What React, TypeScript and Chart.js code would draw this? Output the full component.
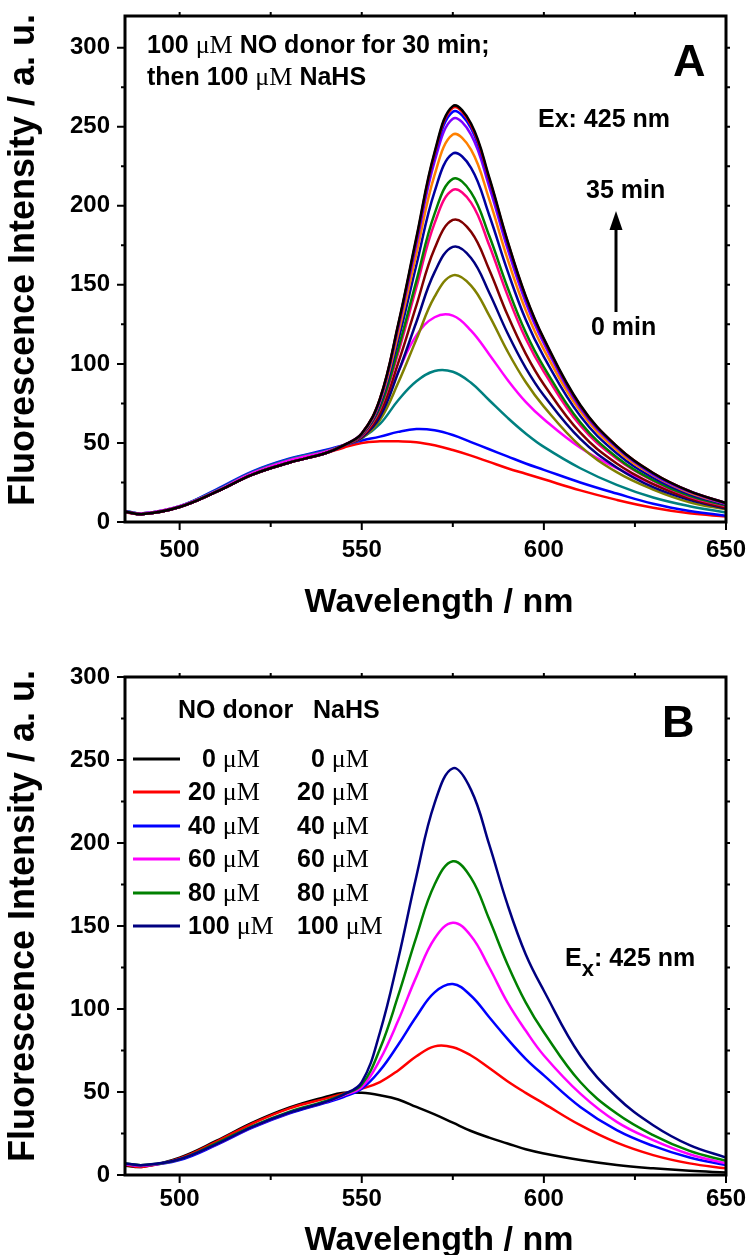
import React, { useEffect, useRef } from "react";
import { Chart, registerables } from "chart.js";

Chart.register(...registerables);

// ---------- shared axes ----------
const WAVELENGTHS = [485, 490, 500, 510, 520, 530, 540, 545, 550, 555, 560, 565, 570, 575, 580, 585, 590, 595, 600, 610, 620, 630, 640, 650];
const X_MIN = 485;
const X_MAX = 650;
const X_MAJOR_TICKS = [500, 550, 600, 650];
const X_MINOR_TICKS = [525, 575, 625];
const Y_MAJOR_TICKS = [0, 50, 100, 150, 200, 250, 300];
const Y_MINOR_TICKS = [25, 75, 125, 175, 225, 275];
const Y_MAX_A = 320;
const Y_MAX_B = 300;
const X_TITLE = "Wavelength / nm";
const Y_TITLE = "Fluorescence Intensity / a. u.";

// ---------- panel A: time course (0 -> 35 min) ----------
const A_S01 = [6, 5, 9.5, 19, 30, 37.5, 43.5, 47, 50, 51, 51, 50.5, 48.5, 45.5, 42, 38, 34, 30.5, 27, 20, 14, 9, 5.5, 3.5];
const A_S02 = [7, 5.5, 10, 20.5, 32, 40, 45.5, 48.5, 51.5, 54, 57, 58.8, 58, 55, 50.5, 46, 41.5, 37, 33, 25, 18, 11.5, 7, 4];
const A_S03 = [7, 5.5, 10, 20, 31.5, 39.5, 45, 48.5, 53, 62, 77, 89, 95.5, 95, 88, 77, 66, 56, 47.5, 34, 23.5, 15.5, 10, 6];
const A_S04 = [6.5, 5.5, 10, 19.5, 31, 39, 44.5, 48.5, 54, 68, 95, 118, 129.5, 130.5, 121, 106, 90, 76, 65, 47, 34, 24, 15.5, 9.5];
const A_S05 = [6.5, 5, 9.5, 19, 30, 37.5, 43.5, 48.5, 53, 64.5, 88, 115.5, 142.5, 156, 149.5, 130.5, 108, 88.5, 73, 48, 31.5, 20.5, 12.5, 8];
const A_S06 = [6.5, 5, 9.5, 19, 30, 37.5, 43.5, 48.5, 53.5, 66.5, 94.5, 126.5, 158, 174, 167, 145, 119.5, 97.5, 80, 52.5, 34.5, 22, 14, 8.5];
const A_S07 = [6.5, 5, 9.5, 19, 30, 37.5, 43.5, 48.5, 54, 69, 100.5, 137, 173, 191, 183.5, 159.5, 131, 106.5, 87, 56.5, 37, 24, 15, 9];
const A_S08 = [6.5, 5, 9.5, 19, 30, 37.5, 43.5, 48.5, 54.5, 71.5, 107, 148.5, 189, 210, 202, 175, 143.5, 116, 95, 61, 40, 26, 16, 10];
const A_S09 = [6.5, 5, 9.5, 19, 30, 37.5, 43.5, 48.5, 55, 72.5, 109.5, 152.5, 195, 217, 208.5, 181, 148.5, 120, 98, 63, 41, 26.5, 16.5, 10.5];
const A_S10 = [6.5, 5, 9.5, 19, 30, 37.5, 43.5, 48.5, 55, 74.5, 115, 162.5, 209, 233, 224, 194, 159, 128, 104.5, 67, 43.5, 28, 17.5, 11];
const A_S11 = [6.5, 5, 9.5, 19, 30, 37.5, 43.5, 48.5, 55.5, 76, 119, 169.5, 219.5, 245, 235.5, 204, 166.5, 134, 109, 70, 45.5, 29.5, 18.5, 11.5];
const A_S12 = [6.5, 5, 9.5, 19, 30, 37.5, 43.5, 48.5, 56, 77, 122.5, 175.5, 228, 255, 245, 212, 173, 139, 113, 72, 47, 30, 19, 11.5];
const A_S13 = [6.5, 5, 9.5, 19, 30, 37.5, 43.5, 48.5, 56, 77.5, 124, 178, 231.5, 259.5, 249, 215.5, 176, 141.5, 115, 73, 47.5, 30.5, 19.5, 12];
const A_S14 = [6.5, 5, 9.5, 19, 30, 37.5, 43.5, 48.5, 56, 78, 124.5, 179, 233, 262, 251, 217, 177.5, 142.5, 115.5, 73.5, 48, 31, 19.5, 12];
const A_S15 = [6.5, 5, 9.5, 19, 30, 37.5, 43.5, 48.5, 56, 78, 125, 180, 234, 263, 252, 218, 178, 143, 116, 74, 48, 31, 19.5, 12];
const A_SERIES = [A_S01, A_S02, A_S03, A_S04, A_S05, A_S06, A_S07, A_S08, A_S09, A_S10, A_S11, A_S12, A_S13, A_S14, A_S15];
const A_COLORS = ["#FF0000", "#0000FF", "#008080", "#FF00FF", "#808000", "#000080", "#800000", "#FF0080", "#008000", "#0000A0", "#FF8000", "#8000FF", "#0000FF", "#FF0000", "#000000"];

// ---------- panel B: concentration series ----------
const B_LABELS_NO = ["0", "20", "40", "60", "80", "100"];
const B_LABELS_NAHS = ["0", "20", "40", "60", "80", "100"];
const B_S0 = [5.5, 5, 10.5, 20.5, 31.5, 40.5, 47, 49.5, 49.5, 48, 45.5, 41, 36.5, 31.5, 26.5, 22.5, 19, 15.5, 13, 9, 6, 4, 2.5, 1.5];
const B_S20 = [6, 5, 10, 20, 31, 40, 46, 49, 52, 56, 63, 71.5, 77.5, 77, 72, 64.5, 56.5, 49.5, 43, 30, 19.5, 12, 7, 4];
const B_S40 = [6.5, 5.5, 9, 18, 28.5, 37, 43.5, 47, 52, 63, 78.5, 95.5, 110, 115, 108, 95, 82, 70, 60, 41, 27, 17.5, 10.5, 6];
const B_S60 = [6.5, 5.5, 9.5, 18.5, 29, 37.5, 44, 48, 53, 69.5, 93, 119.5, 142.5, 152, 144, 125, 104, 87, 72, 49, 32, 21, 12.5, 7];
const B_S80 = [7, 6, 9.5, 19, 29.5, 38, 44.5, 48.5, 54.5, 76, 108, 143.5, 175, 189, 179, 154, 127, 104, 86, 56, 37, 24, 14.5, 8.5];
const B_S100 = [7, 6, 9.5, 18.5, 29, 37.5, 44, 48.5, 56, 86, 130, 180, 224, 245, 232, 199, 163, 133, 111, 72, 47, 30, 18, 10.5];
const B_SERIES = [B_S0, B_S20, B_S40, B_S60, B_S80, B_S100];
const B_COLORS = ["#000000", "#FF0000", "#0000FF", "#FF00FF", "#008000", "#000080"];

// ---------- styling ----------
const SANS = '"Liberation Sans", Arial, Helvetica, sans-serif';
const SERIF = '"Liberation Serif", "Times New Roman", serif';
const B25 = `bold 25px ${SANS}`;
const MU = `26px ${SERIF}`;

type Run = { text: string; font: string; dy?: number };

function drawRuns(ctx: CanvasRenderingContext2D, x: number, y: number, runs: Run[]) {
  let cx = x;
  for (const r of runs) {
    ctx.font = r.font;
    ctx.fillText(r.text, cx, y + (r.dy || 0));
    cx += ctx.measureText(r.text).width;
  }
  return cx;
}

type TitlePos = { xTitleX: number; xTitleBase: number; yTitleX: number; yTitleY: number };

function framePlugin(yMax: number, tp: TitlePos, notes: (ctx: CanvasRenderingContext2D) => void) {
  return {
    id: "frameNotes",
    afterDraw(chart: any) {
      const ctx: CanvasRenderingContext2D = chart.ctx;
      const { left, right, top, bottom } = chart.chartArea;
      const xs = chart.scales.x;
      const ys = chart.scales.y;
      ctx.save();
      ctx.strokeStyle = "#000";
      ctx.fillStyle = "#000";
      ctx.lineWidth = 2;
      ctx.beginPath();
      for (const v of X_MAJOR_TICKS) {
        const p = xs.getPixelForValue(v);
        ctx.moveTo(p, bottom);
        ctx.lineTo(p, bottom + 8);
      }
      for (const v of X_MINOR_TICKS) {
        const p = xs.getPixelForValue(v);
        ctx.moveTo(p, bottom);
        ctx.lineTo(p, bottom + 5);
      }
      for (const v of [...X_MAJOR_TICKS, ...X_MINOR_TICKS]) {
        if (v >= X_MAX) continue;
        const p = xs.getPixelForValue(v);
        ctx.moveTo(p, top);
        ctx.lineTo(p, top - 4);
      }
      for (const v of Y_MAJOR_TICKS) {
        const p = ys.getPixelForValue(v);
        ctx.moveTo(left, p);
        ctx.lineTo(left - 8, p);
        if (v > 0 && v < yMax) {
          ctx.moveTo(right, p);
          ctx.lineTo(right + 4, p);
        }
      }
      for (const v of Y_MINOR_TICKS) {
        const p = ys.getPixelForValue(v);
        ctx.moveTo(left, p);
        ctx.lineTo(left - 4, p);
        ctx.moveTo(right, p);
        ctx.lineTo(right + 4, p);
      }
      ctx.stroke();
      ctx.lineWidth = 3;
      ctx.strokeRect(left, top, right - left, bottom - top);

      // axis titles
      ctx.textAlign = "center";
      ctx.textBaseline = "alphabetic";
      ctx.font = `bold 34px ${SANS}`;
      ctx.fillText(X_TITLE, tp.xTitleX, tp.xTitleBase);
      ctx.save();
      ctx.translate(tp.yTitleX, tp.yTitleY);
      ctx.rotate(-Math.PI / 2);
      ctx.textBaseline = "middle";
      ctx.font = `bold 36px ${SANS}`;
      ctx.fillText(Y_TITLE, 0, 0);
      ctx.restore();

      ctx.textAlign = "left";
      ctx.textBaseline = "alphabetic";
      notes(ctx);
      ctx.restore();
    },
  };
}

function zeroPadding(s: any) {
  s.paddingTop = 0;
  s.paddingBottom = 0;
  s.paddingLeft = 0;
  s.paddingRight = 0;
}

function makeOptions(yMax: number, padTop: number, xAxisHeight: number, xTickPad: number) {
  const tickFont = { family: SANS, size: 24, weight: "bold" as const };
  return {
    responsive: false,
    animation: false as const,
    layout: { padding: { left: 0, right: 24, top: padTop, bottom: 0 } },
    plugins: { legend: { display: false }, tooltip: { enabled: false } },
    elements: { point: { radius: 0 } },
    scales: {
      x: {
        type: "linear" as const,
        min: X_MIN,
        max: X_MAX,
        afterBuildTicks: (s: any) => {
          s.ticks = X_MAJOR_TICKS.map((v) => ({ value: v }));
        },
        afterFit: (s: any) => {
          s.height = xAxisHeight;
          zeroPadding(s);
        },
        grid: { display: false, drawTicks: false },
        border: { display: false },
        ticks: { font: tickFont, color: "#000", padding: xTickPad, maxRotation: 0, autoSkip: false, callback: (v: any) => String(v) },
        title: { display: false },
      },
      y: {
        type: "linear" as const,
        min: 0,
        max: yMax,
        afterBuildTicks: (s: any) => {
          s.ticks = Y_MAJOR_TICKS.map((v) => ({ value: v }));
        },
        afterFit: (s: any) => {
          s.width = 125;
          zeroPadding(s);
        },
        grid: { display: false, drawTicks: false },
        border: { display: false },
        ticks: { font: tickFont, color: "#000", padding: 15, callback: (v: any) => String(v) },
        title: { display: false },
      },
    },
  };
}

function toPoints(values: number[]) {
  return WAVELENGTHS.map((w, i) => ({ x: w, y: values[i] }));
}

const notesA = (ctx: CanvasRenderingContext2D) => {
  drawRuns(ctx, 147, 53, [
    { text: "100 ", font: B25 },
    { text: "\u03BCM", font: MU },
    { text: " NO donor for 30 min;", font: B25 },
  ]);
  drawRuns(ctx, 147, 85, [
    { text: "then 100 ", font: B25 },
    { text: "\u03BCM", font: MU },
    { text: " NaHS", font: B25 },
  ]);
  ctx.font = `bold 45px ${SANS}`;
  ctx.fillText("A", 673, 76);
  ctx.font = B25;
  ctx.fillText("Ex: 425 nm", 538, 127);
  ctx.fillText("35 min", 586, 198);
  ctx.fillText("0 min", 591, 335);
  ctx.lineWidth = 3;
  ctx.beginPath();
  ctx.moveTo(616, 312);
  ctx.lineTo(616, 226);
  ctx.stroke();
  ctx.beginPath();
  ctx.moveTo(616, 211);
  ctx.lineTo(609.5, 230);
  ctx.lineTo(622.5, 230);
  ctx.closePath();
  ctx.fill();
};

const notesB = (ctx: CanvasRenderingContext2D) => {
  ctx.font = B25;
  ctx.fillText("NO donor", 178, 78);
  ctx.fillText("NaHS", 313, 78);
  const baselines = [127, 160, 194, 227, 261, 294];
  for (let i = 0; i < B_COLORS.length; i++) {
    const yb = baselines[i];
    ctx.strokeStyle = B_COLORS[i];
    ctx.lineWidth = 3;
    ctx.beginPath();
    ctx.moveTo(133, yb - 8);
    ctx.lineTo(180, yb - 8);
    ctx.stroke();
    ctx.font = B25;
    const w2 = ctx.measureText("20").width;
    const n1 = B_LABELS_NO[i];
    const n2 = B_LABELS_NAHS[i];
    const x1 = Math.max(188, 188 + w2 - ctx.measureText(n1).width);
    drawRuns(ctx, x1, yb, [
      { text: n1 + " ", font: B25 },
      { text: "\u03BCM", font: MU },
    ]);
    ctx.font = B25;
    const x2 = Math.max(297, 297 + w2 - ctx.measureText(n2).width);
    drawRuns(ctx, x2, yb, [
      { text: n2 + " ", font: B25 },
      { text: "\u03BCM", font: MU },
    ]);
  }
  ctx.fillStyle = "#000";
  ctx.font = `bold 45px ${SANS}`;
  ctx.fillText("B", 662, 97);
  drawRuns(ctx, 565, 326, [
    { text: "E", font: B25 },
    { text: "x", font: `bold 22px ${SANS}`, dy: 10 },
    { text: ": 425 nm", font: B25 },
  ]);
};

export default function App() {
  const refA = useRef<HTMLCanvasElement | null>(null);
  const refB = useRef<HTMLCanvasElement | null>(null);

  useEffect(() => {
    if (!refA.current || !refB.current) return;
    const dsA = A_SERIES.map((s, i) => ({
      data: toPoints(s),
      borderColor: A_COLORS[i],
      borderWidth: 2.5,
      pointRadius: 0,
      fill: false,
      tension: 0.4,
    })).reverse();
    const dsB = B_SERIES.map((s, i) => ({
      data: toPoints(s),
      borderColor: B_COLORS[i],
      borderWidth: 2.5,
      pointRadius: 0,
      fill: false,
      tension: 0.4,
    })).reverse();

    const chartA = new Chart(refA.current, {
      type: "line",
      data: { datasets: dsA as any },
      options: makeOptions(Y_MAX_A, 16, 118, 14) as any,
      plugins: [framePlugin(Y_MAX_A, { xTitleX: 439, xTitleBase: 612, yTitleX: 24, yTitleY: 260 }, notesA)],
    });
    const chartB = new Chart(refB.current, {
      type: "line",
      data: { datasets: dsB as any },
      options: makeOptions(Y_MAX_B, 37, 85, 10) as any,
      plugins: [framePlugin(Y_MAX_B, { xTitleX: 439, xTitleBase: 610, yTitleX: 24, yTitleY: 276 }, notesB)],
    });
    return () => {
      chartA.destroy();
      chartB.destroy();
    };
  }, []);

  return (
    <div style={{ position: "absolute", left: 0, top: 0, width: 750, height: 1255, overflow: "hidden", background: "#fff" }}>
      <canvas ref={refA} width={750} height={640} style={{ position: "absolute", left: 0, top: 0, width: 750, height: 640 }} />
      <canvas ref={refB} width={750} height={620} style={{ position: "absolute", left: 0, top: 640, width: 750, height: 620 }} />
    </div>
  );
}
